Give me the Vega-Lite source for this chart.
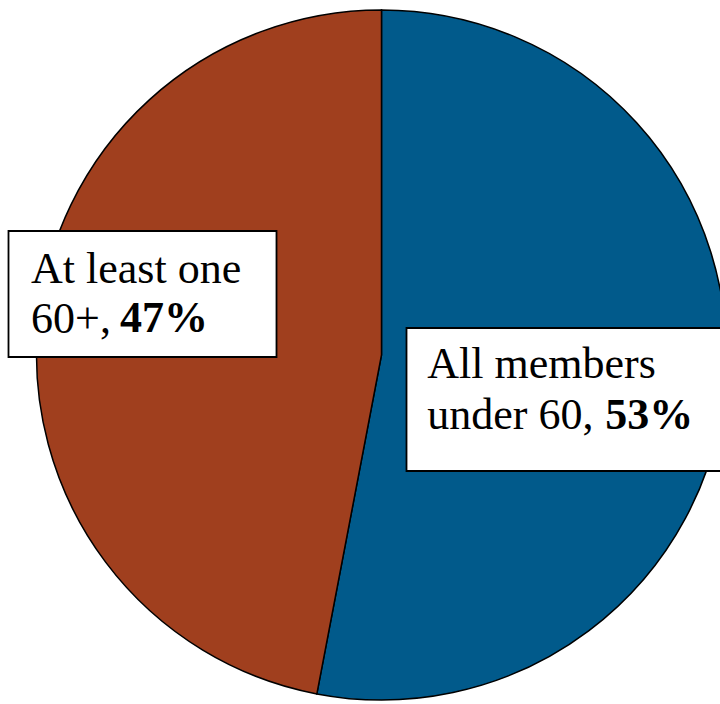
{
  "$schema": "https://vega.github.io/schema/vega-lite/v6.json",
  "width": 677,
  "height": 698,
  "autosize": "none",
  "padding": {"left": 43, "top": 6, "right": 0, "bottom": 0},
  "background": "white",
  "config": {"view": {"stroke": null}},
  "data": {
    "values": [
      {"group": "All members under 60", "share": 53, "label": "All members\nunder 60,", "pct": "53%"},
      {"group": "At least one 60+", "share": 47, "label": "At least one\n60+,", "pct": "47%"}
    ]
  },
  "layer": [
    {
      "mark": {"type": "arc", "outerRadius": 345, "stroke": "black", "strokeWidth": 1.5},
      "encoding": {
        "theta": {"field": "share", "type": "quantitative", "stack": true},
        "order": {"field": "group", "type": "ordinal", "sort": "ascending"},
        "color": {
          "field": "group",
          "type": "nominal",
          "scale": {"domain": ["All members under 60", "At least one 60+"], "range": ["#015A8B", "#A03F1E"]},
          "legend": null
        }
      }
    },
    {
      "mark": {"type": "point", "filled": true, "fill": "white", "stroke": "black", "strokeWidth": 1.8, "size": 4, "opacity": 1},
      "encoding": {
        "shape": {
          "field": "group",
          "type": "nominal",
          "scale": {
            "domain": ["All members under 60", "At least one 60+"],
            "range": ["M25,-27H350V116H25Z", "M-373,-124H-105V2H-373Z"]
          },
          "legend": null
        }
      }
    },
    {
      "mark": {"type": "text", "font": "Liberation Serif", "fontSize": 44, "lineHeight": 50, "lineBreak": "\n", "align": "left", "baseline": "alphabetic", "radius": 352, "dy": -39, "color": "black"},
      "encoding": {
        "theta": {"field": "share", "type": "quantitative", "stack": true},
        "order": {"field": "group", "type": "ordinal", "sort": "ascending"},
        "detail": {"field": "group", "type": "nominal"},
        "text": {"field": "label", "type": "nominal"},
        "opacity": {"condition": {"test": "datum.group === 'At least one 60+'", "value": 1}, "value": 0}
      }
    },
    {
      "mark": {"type": "text", "font": "Liberation Serif", "fontSize": 44, "fontWeight": "bold", "align": "left", "baseline": "alphabetic", "radius": 352, "dy": 10, "dx": 89, "color": "black"},
      "encoding": {
        "theta": {"field": "share", "type": "quantitative", "stack": true},
        "order": {"field": "group", "type": "ordinal", "sort": "ascending"},
        "detail": {"field": "group", "type": "nominal"},
        "text": {"field": "pct", "type": "nominal"},
        "opacity": {"condition": {"test": "datum.group === 'At least one 60+'", "value": 1}, "value": 0}
      }
    },
    {
      "mark": {"type": "text", "font": "Liberation Serif", "fontSize": 44, "lineHeight": 51, "lineBreak": "\n", "align": "left", "baseline": "alphabetic", "radius": 46, "dy": 19, "color": "black"},
      "encoding": {
        "theta": {"field": "share", "type": "quantitative", "stack": true},
        "order": {"field": "group", "type": "ordinal", "sort": "ascending"},
        "detail": {"field": "group", "type": "nominal"},
        "text": {"field": "label", "type": "nominal"},
        "opacity": {"condition": {"test": "datum.group === 'All members under 60'", "value": 1}, "value": 0}
      }
    },
    {
      "mark": {"type": "text", "font": "Liberation Serif", "fontSize": 44, "fontWeight": "bold", "align": "left", "baseline": "alphabetic", "radius": 46, "dy": 70, "dx": 178, "color": "black"},
      "encoding": {
        "theta": {"field": "share", "type": "quantitative", "stack": true},
        "order": {"field": "group", "type": "ordinal", "sort": "ascending"},
        "detail": {"field": "group", "type": "nominal"},
        "text": {"field": "pct", "type": "nominal"},
        "opacity": {"condition": {"test": "datum.group === 'All members under 60'", "value": 1}, "value": 0}
      }
    }
  ]
}
